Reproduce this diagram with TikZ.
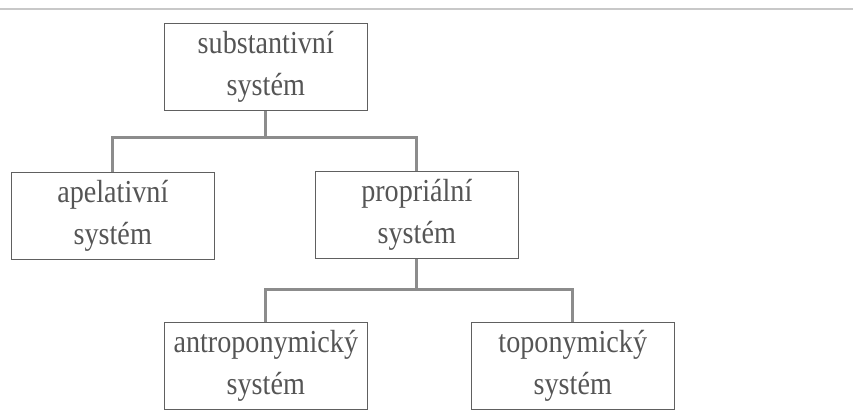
\documentclass[tikz,border=0pt]{standalone}
\usepackage{fontspec}
\setmainfont{Liberation Serif}[FakeStretch=0.88]
\usetikzlibrary{positioning}
\definecolor{boxgray}{HTML}{606060}
\definecolor{linkgray}{HTML}{8C8C8C}
\definecolor{textgray}{HTML}{555555}
\definecolor{rulegray}{HTML}{C8C8C8}
\tikzset{sysbox/.style={draw=boxgray,line width=0.75pt,minimum width=101.5pt,
		minimum height=43.5pt,inner sep=0pt,align=center,text=textgray,
		font=\fontsize{16}{21}\selectfont},
	link/.style={draw=linkgray,line width=1.5pt}}

\begin{document}
\begin{tikzpicture}[on grid]
			\useasboundingbox (-132.9pt,-175.5pt) rectangle (293.6pt,33.5pt);
			\draw[rulegray,line width=1pt] (-132.9pt,29pt) -- (293.6pt,29pt);
			\node[sysbox] (sub) {substantivní\\systém};
			\node[sysbox,below left=74.5pt and 76.5pt of sub] (apel) {apelativní\\systém};
			\node[sysbox,below right=74pt and 75.5pt of sub] (prop) {propriální\\systém};
			\node[sysbox,below left=75.5pt and 75.5pt of prop] (antrop) {antroponymický\\systém};
			\node[sysbox,below right=75.5pt and 78pt of prop] (topo) {toponymický\\systém};
			% forks
			\coordinate (subfork) at ([yshift=-13pt]sub.south);
			\coordinate (propfork) at ([yshift=-15pt]prop.south);
			\draw[link] (sub.south) -- (subfork);
			\draw[link] (apel.north) |- (subfork) -| (prop.north);
			\draw[link] (prop.south) -- (propfork);
			\draw[link] (antrop.north) |- (propfork) -| (topo.north);
		\end{tikzpicture}
\end{document}
